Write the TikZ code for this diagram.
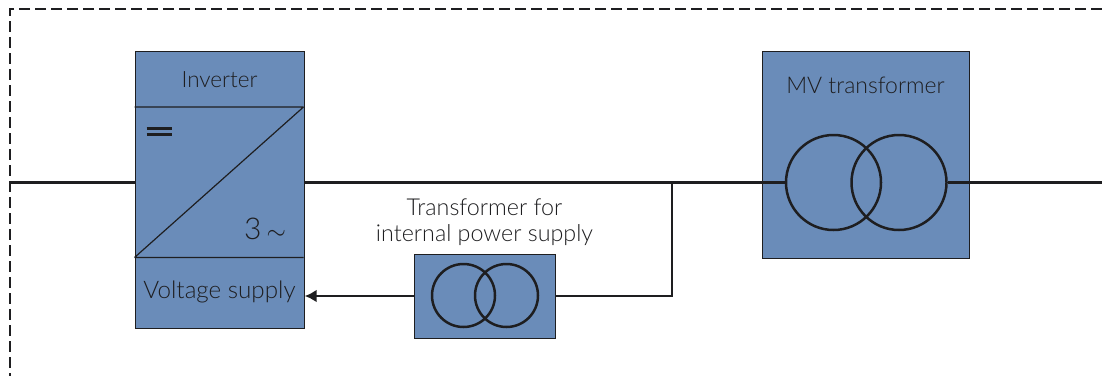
\documentclass[tikz,border=0pt]{standalone}
\usepackage{fontspec}
\setmainfont{Lato}[UprightFont=* Light]
\usetikzlibrary{arrows.meta}
\definecolor{boxblue}{HTML}{6A8CB9}
\definecolor{ink}{HTML}{1E1E20}
\tikzset{
 block/.style={draw=ink,fill=boxblue,line width=1.2pt,inner sep=0pt},
 wire/.style={draw=ink,line width=2.6pt},
 coil/.style={draw=ink,line width=2.5pt,circle,inner sep=0pt},
 thinline/.style={draw=ink,line width=1.2pt},
 lbl/.style={inner sep=0pt,text=ink,font=\fontsize{23}{26}\selectfont,align=center}}
\begin{document}
\begin{tikzpicture}[x=1pt,y=-1pt]
\useasboundingbox (0,0) rectangle (1102,376);
\path[fill=white] (0,0) rectangle (1102,376);
\coordinate (fl) at (10,182.5); \coordinate (fr) at (1102,182.5);
\coordinate (dtr) at (1102,9); \coordinate (dtl) at (10,9); \coordinate (dbl) at (10,376);
\draw[ink,line width=1.6pt,dash pattern=on 11pt off 5pt] (dtr) -- (dtl) -- (dbl);
\node[block,minimum width=169pt,minimum height=277pt,anchor=north west] (inv) at (134.5,50.5) {};
\node[block,minimum width=207pt,minimum height=207pt,anchor=north west] (mv) at (761.5,50.5) {};
\node[block,minimum width=141pt,minimum height=84pt,anchor=north west] (tr) at (413.5,253.5) {};
\coordinate (i1) at (134.5,107); \coordinate (i2) at (303.5,107);
\coordinate (i3) at (134.5,257.5); \coordinate (i4) at (303.5,257.5);
\draw[thinline] (i1) -- (i2) (i3) -- (i4) (i3) -- (i2);
\coordinate (eq1) at (146.7,128); \coordinate (eq2) at (172.3,128);
\coordinate (eq3) at (146.7,134.2); \coordinate (eq4) at (172.3,134.2);
\draw[ink,line width=3pt] (eq1) -- (eq2) (eq3) -- (eq4);
\node[lbl,font=\fontsize{22.5}{26}\selectfont] (tinv) at (219.5,80) {Inverter};
\node[lbl,font=\fontsize{30}{34}\selectfont] (t3) at (265,229) {3\,$\sim$};
\node[lbl,font=\fontsize{24.2}{26}\selectfont] (tvs) at (219.5,292) {Voltage supply};
\node[lbl] (tmv) at (865.5,85) {MV transformer};
\node[lbl,font=\fontsize{23.3}{26}\selectfont] (ttr) at (484.5,222.5) {Transformer for\\internal power supply};
\node[coil,minimum size=95pt] (mv1) at (833.5,182.5) {};
\node[coil,minimum size=95pt] (mv2) at (899,182.5) {};
\node[coil,minimum size=63pt] (t1) at (463.5,295.5) {};
\node[coil,minimum size=63pt] (t2) at (506.5,295.5) {};
\coordinate (j) at (672,182.5); \coordinate (k) at (672,296);
\draw[wire] (fl) -- (inv.west|-fl);
\draw[wire] (inv.east|-fl) -- (mv1.west);
\draw[wire] (mv2.east) -- (fr);
\draw[wire,line join=miter] (j) -- (k) -- (tr.east|-k);
\draw[wire,-{Latex[length=12pt,width=13pt]}] (tr.west|-k) -- (inv.east|-k);
\end{tikzpicture}
\end{document}
